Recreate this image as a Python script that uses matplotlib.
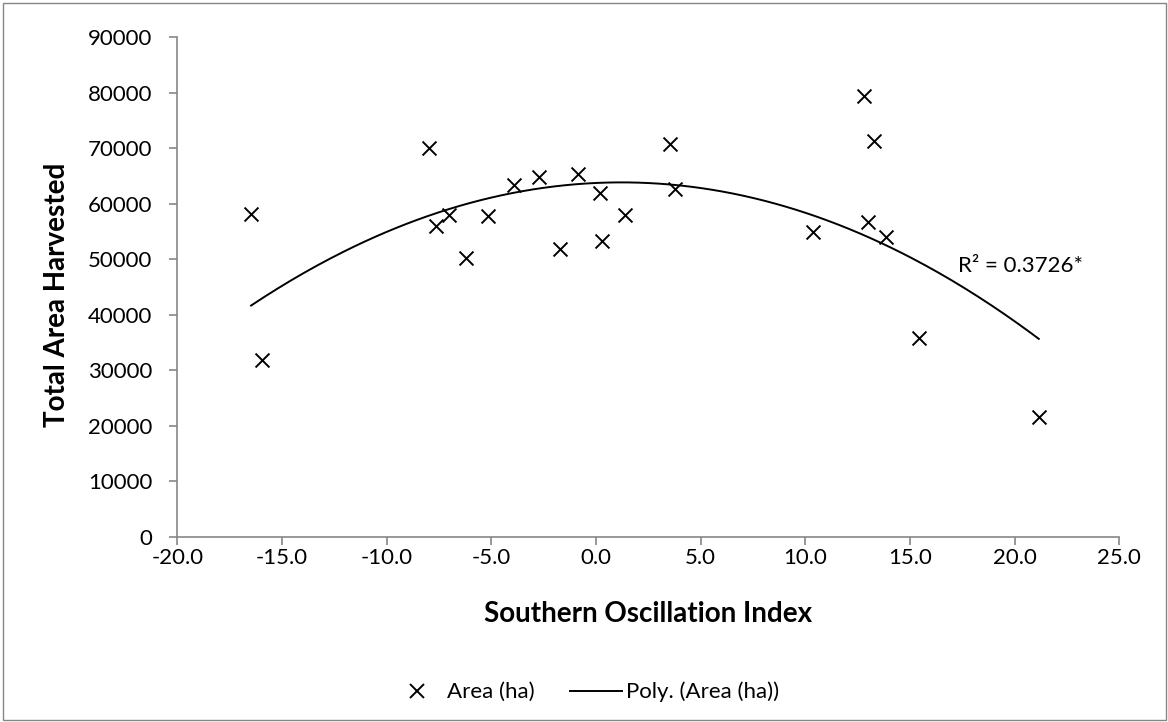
import numpy as np
import matplotlib
matplotlib.use("Agg")
import matplotlib.pyplot as plt
from matplotlib.lines import Line2D
from matplotlib.patches import Rectangle
from matplotlib.ticker import FuncFormatter

plt.rcParams['font.family'] = ['Lato', 'DejaVu Sans']

soi = [-16.48, -15.96, -7.96, -7.65, -7.02, -6.20, -5.15, -3.91, -2.72, -1.74,
       -0.88, 0.20, 0.26, 1.38, 3.53, 3.75, 10.35, 12.79, 13.01, 13.30,
       13.84, 15.42, 21.15]
area = [58210, 31800, 70090, 55980, 57900, 50220, 57850, 63300, 64800, 51840,
        65340, 61920, 53280, 57960, 70690, 62590, 54850, 79330, 56650, 71230,
        54000, 35820, 21600]
x_ticks = [-20, -15, -10, -5, 0, 5, 10, 15, 20, 25]
y_ticks = [0, 10000, 20000, 30000, 40000, 50000, 60000, 70000, 80000, 90000]
r2_label = "R² = 0.3726*"

W, H = 1168, 722
fig = plt.figure(figsize=(W / 100, H / 100), dpi=100)
fig.patches.append(Rectangle((2.5 / W, 2.5 / H), (W - 5) / W, (H - 5) / H,
                             transform=fig.transFigure, fill=False,
                             edgecolor='#868686', lw=1.0))

ax = fig.add_axes([177.4 / W, 1 - 536.7 / H, (1119.4 - 177.4) / W, (536.7 - 37) / H])

grey = '#868686'
ax.scatter(soi, area, marker='x', s=100, linewidths=1.4, color='black', zorder=3)

coef = np.polyfit(soi, area, 2)
xs = np.linspace(min(soi), max(soi), 300)
ax.plot(xs, np.polyval(coef, xs), color='black', lw=1.4, zorder=2)

ax.text(17.3, 48700, r2_label, fontsize=16, va='center', ha='left')

ax.set_xlim(-20, 25)
ax.set_ylim(0, 90000)
ax.set_xticks(x_ticks)
ax.set_yticks(y_ticks)
ax.xaxis.set_major_formatter(FuncFormatter(lambda v, p: f"{v:.1f}"))
ax.yaxis.set_major_formatter(FuncFormatter(lambda v, p: f"{int(v)}"))
for s in ['top', 'right']:
    ax.spines[s].set_visible(False)
for s in ['left', 'bottom']:
    ax.spines[s].set_color(grey)
    ax.spines[s].set_linewidth(1.2)
ax.tick_params(axis='both', direction='out', length=6, width=1.2, color=grey,
               labelsize=16, labelcolor='black')
ax.tick_params(axis='y', pad=12)
ax.tick_params(axis='x', pad=2)

ax.set_xlabel("Southern Oscillation Index", fontsize=20, fontweight='bold')
ax.set_ylabel("Total Area Harvested", fontsize=20, fontweight='bold')
ax.xaxis.set_label_coords(0.5, -(614 - 536.7) / 499.7)
ax.xaxis.label.set_va('center')
ax.yaxis.set_label_coords((57 - 177.4) / 942, (536.7 - 295) / 499.7)
ax.yaxis.label.set_va('center')

handles = [Line2D([], [], marker='x', color='black', ls='none', markersize=10, mew=1.4),
           Line2D([], [], color='black', lw=1.4)]
fig.legend(handles, ["Area (ha)", "Poly. (Area (ha))"], loc='center',
           bbox_to_anchor=(585 / W, 1 - 692 / H), ncol=2, frameon=False,
           fontsize=16, handlelength=2.36, columnspacing=1.6, handletextpad=0.15,
           borderpad=0, borderaxespad=0)

fig.savefig("out.png", dpi=100)
